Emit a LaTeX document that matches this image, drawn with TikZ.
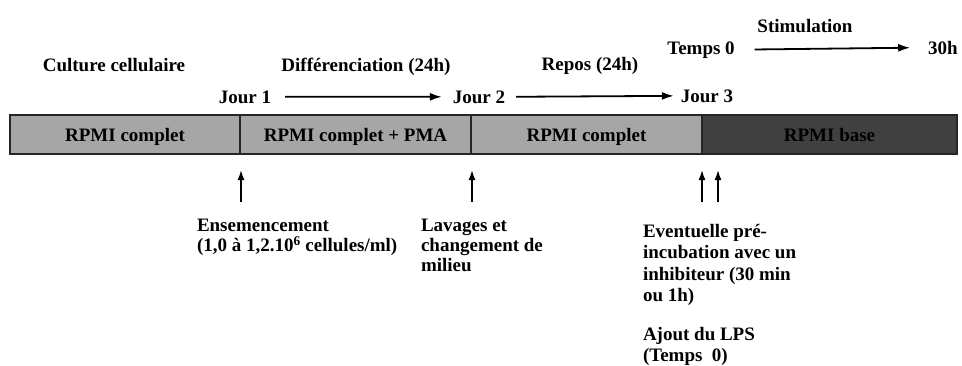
\documentclass[tikz,border=0pt]{standalone}
\usepackage{fontspec}
\setmainfont{Liberation Serif}
\usetikzlibrary{arrows.meta,positioning}
\definecolor{grisclair}{HTML}{A6A6A6}
\definecolor{grisfonce}{HTML}{404040}
\tikzset{
  txt/.style={font=\bfseries\fontsize{19}{20}\selectfont, inner sep=0pt, outer sep=0pt},
  etape/.style={txt, draw=black!85, line width=1.3pt, minimum height=39pt, text depth=0pt},
  bloc/.style={txt, align=left, anchor=north west},
  fleche/.style={-{Latex[length=12pt,width=8pt]}, line width=1.8pt},
  petitefleche/.style={-{Latex[length=10pt,width=7pt]}, line width=1.6pt}
}

\begin{document}
\begin{tikzpicture}[x=1pt,y=-1pt]
\useasboundingbox (0,0) rectangle (962,365);
\node[etape, fill=grisclair, minimum width=230pt] (b1) at (125,134.5) {RPMI complet};
\node[etape, fill=grisclair, minimum width=231pt, right=0pt of b1] (b2) {RPMI complet + PMA};
\node[etape, fill=grisclair, minimum width=231pt, right=0pt of b2] (b3) {RPMI complet};
\node[etape, fill=grisfonce, text=black, minimum width=255pt, right=0pt of b3] (b4) {RPMI base};

\node[txt, anchor=base] (culture) at (114,71) {Culture cellulaire};
\node[txt, anchor=base] (diff) at (366,71) {Différenciation (24h)};
\node[txt, anchor=base] (repos) at (590,70) {Repos (24h)};
\node[txt, anchor=base] (stim) at (805,32) {Stimulation};
\node[txt, anchor=base] (j1) at (245,103) {Jour 1};
\node[txt, anchor=base] (j2) at (479,103) {Jour 2};
\node[txt, anchor=base] (j3) at (707,102) {Jour 3};
\node[txt, anchor=base] (t0) at (701,54) {Temps 0};
\node[txt, anchor=base] (h30) at (943,54) {30h};

\draw[fleche, shorten <=14pt, shorten >=11pt] (j1.east) -- (j2.west);
\draw[fleche, shorten <=11pt, shorten >=7pt] (j2.east) -- (j3.west);
\draw[fleche, shorten <=20pt, shorten >=18pt] (t0.east) -- (h30.west);

\coordinate (p1) at (241,202);
\coordinate (p2) at (472,202);
\coordinate (p3) at (702,202);
\coordinate (p4) at (718,202);
\foreach \p in {p1,p2,p3,p4}
  \draw[petitefleche, shorten >=16pt] (\p) -- (\p |- b1.south);

\node[bloc] (ens) at (197,219) {Ensemencement\\(1,0 à 1,2.10\textsuperscript{6} cellules/ml)};
\node[bloc] (lav) at (421,219) {Lavages et\\changement de\\milieu};
\node[bloc, font=\bfseries\fontsize{19}{21.5}\selectfont] (ev) at (643,224) {Eventuelle pré-\\incubation avec un\\inhibiteur (30 min\\ou 1h)};
\node[bloc, font=\bfseries\fontsize{19}{21.5}\selectfont] (ajout) at (643,327) {Ajout du LPS\\(Temps\ \ 0)};
\end{tikzpicture}
\end{document}
